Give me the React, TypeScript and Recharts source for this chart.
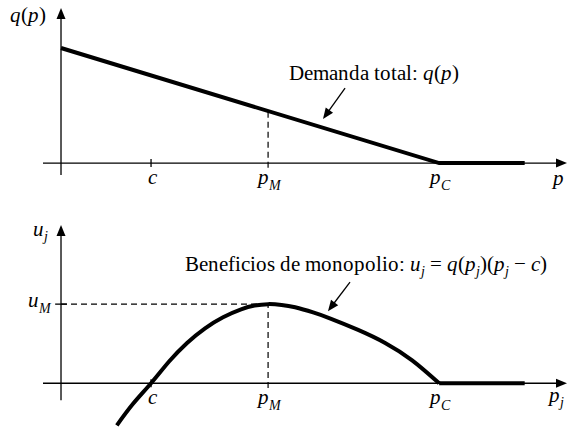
import React from 'react'
import { LineChart, Line, XAxis, YAxis, ReferenceLine } from 'recharts'

// key prices on the horizontal axis
const priceTicks = [2, 4.6, 8.4]
const priceTickMain = ['c', 'p', 'p']
const priceTickSub = ['', 'M', 'C']

// linear demand, zero above the competitive price
const demandPrice = [0, 8.4, 10.3]
const demandQty = [10, 0, 0]

// monopoly profit curve up to p_C, then flat
const profitPrice = [1.24, 1.6, 2, 2.4, 2.8, 3.2, 3.6, 4.0, 4.3, 4.6, 4.9, 5.2, 5.6, 6.0, 6.6, 7.2, 7.8, 8.4]
const profitValue = [-5.32, -2.6, 0, 2.75, 5.1, 6.95, 8.35, 9.35, 9.82, 10, 9.9, 9.6, 8.95, 8.15, 6.75, 5.1, 2.9, 0]
const profitTailPrice = [8.4, 10.3]
const profitTailValue = [0, 0]

const uM = 10
const pM = 4.6
const qAtPM = 10 * (1 - 4.6 / 8.4)

const FONT = 'MathSerif, "Liberation Serif", Tinos, "Times New Roman", serif'

// serif face bound by local name
const fontCss = `
body{margin:0}
@font-face{font-family:MathSerif;font-style:normal;font-weight:400;src:local("Liberation Serif"),local("LiberationSerif"),local("Liberation Serif Regular"),local("Tinos"),local("Times New Roman");}
@font-face{font-family:MathSerif;font-style:italic;font-weight:400;src:local("Liberation Serif Italic"),local("LiberationSerif-Italic"),local("Tinos Italic"),local("Times New Roman Italic");}
`

const demandData = demandPrice.map((p, i) => ({ p, v: demandQty[i] }))
const profitData = profitPrice.map((p, i) => ({ p, v: profitValue[i] }))
const tailData = profitTailPrice.map((p, i) => ({ p, v: profitTailValue[i] }))

// line with a filled arrowhead at its end point
const arrow = (len: number, half: number, width: number) => (props: any) => {
  const { x1, y1, x2, y2 } = props
  const a = Math.atan2(y2 - y1, x2 - x1)
  const bx = x2 - len * Math.cos(a)
  const by = y2 - len * Math.sin(a)
  const nx = -Math.sin(a) * half
  const ny = Math.cos(a) * half
  return (
    <g>
      <line x1={x1} y1={y1} x2={bx + Math.cos(a) * 2} y2={by + Math.sin(a) * 2} stroke="#000" strokeWidth={width} />
      <path d={`M${x2},${y2}L${bx + nx},${by + ny}L${bx - nx},${by - ny}Z`} fill="#000" />
    </g>
  )
}

function Sym({ x, y, main, sub, anchor = 'middle', size = 21 }: any) {
  return (
    <text x={x} y={y} textAnchor={anchor} style={{ fontFamily: FONT }} fontSize={size} fontStyle="italic" fill="#000">
      {main}
      {sub ? <tspan fontSize={size * 0.68} dy={size * 0.28}>{sub}</tspan> : null}
    </text>
  )
}

const priceTick = (baseline: number) => (props: any) => {
  const i = priceTicks.indexOf(props.payload.value)
  return <Sym x={props.x + 1} y={baseline} main={priceTickMain[i]} sub={priceTickSub[i]} />
}

const axisArrow = arrow(11, 4.5, 1.3)
const noteArrow = arrow(11, 4.5, 1.3)
const dash = '6 4'

// plain HTML label, top edge of a 21px line box
function Note({ left, top, children }: any) {
  return (
    <div style={{ position: 'absolute', left, top, fontFamily: FONT, fontSize: 21, lineHeight: '21px', whiteSpace: 'nowrap', color: '#000' }}>
      {children}
    </div>
  )
}

const sub = { fontSize: 14, fontStyle: 'italic' as const, position: 'relative' as const, top: 5 }

export default function App() {
  return (
    <div style={{ position: 'relative', width: 570, height: 428, background: '#fff', fontFamily: FONT }}>
      <style>{fontCss}</style>
      <div style={{ position: 'absolute', left: 0, top: 0 }}>
        <LineChart width={570} height={200} data={demandData} margin={{ top: 8, right: 3, bottom: 0, left: 0 }}>
          <XAxis type="number" dataKey="p" domain={[-0.4, 11.24]} ticks={priceTicks} height={25}
            axisLine={false} tickLine={false} tick={priceTick(184)} interval={0} />
          <YAxis type="number" domain={[-1.04, 13.48]} width={43} axisLine={false} tickLine={false} tick={false} />
          <ReferenceLine segment={[{ x: -0.4, y: 0 }, { x: 11.24, y: 0 }]} ifOverflow="visible" shape={axisArrow} />
          <ReferenceLine segment={[{ x: 0, y: -1.04 }, { x: 0, y: 13.48 }]} ifOverflow="visible" shape={axisArrow} />
          <ReferenceLine segment={[{ x: 2, y: -0.35 }, { x: 2, y: 0.35 }]} stroke="#000" strokeWidth={1.3} ifOverflow="visible" />
          <ReferenceLine segment={[{ x: pM, y: -0.4 }, { x: pM, y: qAtPM }]} stroke="#000" strokeWidth={1.2} strokeDasharray={dash} ifOverflow="visible" />
          <ReferenceLine segment={[{ x: 6.31, y: 6.52 }, { x: 5.82, y: 3.83 }]} ifOverflow="visible" shape={noteArrow} />
          <Line type="linear" dataKey="v" stroke="#000" strokeWidth={4} dot={false} isAnimationActive={false} />
        </LineChart>
      </div>
      <div style={{ position: 'absolute', left: 0, top: 200 }}>
        <LineChart width={570} height={228} margin={{ top: 25, right: 3, bottom: 0, left: 0 }}>
          <XAxis type="number" dataKey="p" domain={[-0.4, 11.24]} ticks={priceTicks} height={2}
            axisLine={false} tickLine={false} tick={priceTick(204)} interval={0} />
          <YAxis type="number" domain={[-5.4, 20]} ticks={[uM]} width={43} axisLine={false} tickLine={false}
            tick={(p: any) => <Sym x={51} y={p.y + 3} main="u" sub="M" anchor="end" />} />
          <ReferenceLine segment={[{ x: -0.4, y: 0 }, { x: 11.24, y: 0 }]} ifOverflow="visible" shape={axisArrow} />
          <ReferenceLine segment={[{ x: 0, y: -2.15 }, { x: 0, y: 20 }]} ifOverflow="visible" shape={axisArrow} />
          <ReferenceLine segment={[{ x: 2, y: -0.5 }, { x: 2, y: 0.5 }]} stroke="#000" strokeWidth={1.3} ifOverflow="visible" />
          <ReferenceLine segment={[{ x: -0.13, y: uM }, { x: 0.13, y: uM }]} stroke="#000" strokeWidth={1.3} ifOverflow="visible" />
          <ReferenceLine segment={[{ x: 0, y: uM }, { x: pM, y: uM }]} stroke="#000" strokeWidth={1.2} strokeDasharray={dash} ifOverflow="visible" />
          <ReferenceLine segment={[{ x: pM, y: -0.6 }, { x: pM, y: uM }]} stroke="#000" strokeWidth={1.2} strokeDasharray={dash} ifOverflow="visible" />
          <ReferenceLine segment={[{ x: 6.42, y: 12.78 }, { x: 5.93, y: 9.11 }]} ifOverflow="visible" shape={noteArrow} />
          <Line data={profitData} type="natural" dataKey="v" stroke="#000" strokeWidth={4} dot={false} isAnimationActive={false} />
          <Line data={tailData} type="linear" dataKey="v" stroke="#000" strokeWidth={4} dot={false} isAnimationActive={false} />
        </LineChart>
      </div>
      <Note left={10} top={5}><i>q</i>(<i>p</i>)</Note>
      <Note left={553} top={168}><i>p</i></Note>
      <Note left={33} top={219}><i>u</i><span style={sub}>j</span></Note>
      <Note left={549} top={385}><i>p</i><span style={sub}>j</span></Note>
      <Note left={289} top={63}>Demanda total: <i>q</i>(<i>p</i>)</Note>
      <Note left={185} top={254}>
        Beneficios de monopolio: <i>u</i><span style={sub}>j</span> = <i>q</i>(<i>p</i><span style={sub}>j</span>)(<i>p</i><span style={sub}>j</span> − <i>c</i>)
      </Note>
    </div>
  )
}
